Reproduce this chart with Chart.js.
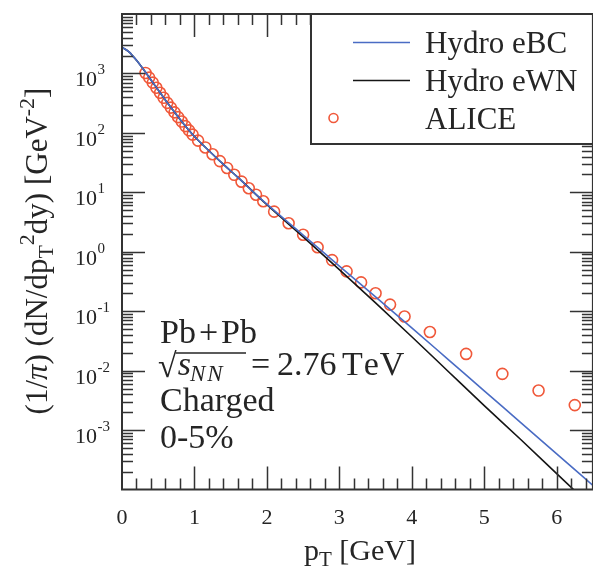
<!DOCTYPE html>
<html>
<head>
<meta charset="utf-8">
<script src="https://cdn.jsdelivr.net/npm/chart.js@4.4.1/dist/chart.umd.min.js"></script>
<style>
  html, body { margin: 0; padding: 0; background: #fff; overflow: hidden; }
  canvas { display: block; }
</style>
</head>
<body>
<canvas id="spectrum" width="600" height="569" style="width:600px;height:569px"></canvas>
<script>
// Hydro curves: pT grid [GeV] and invariant yields [GeV^-2]
const hydroPt  = [0, 0.1, 0.2, 0.3, 0.4, 0.5, 0.6, 0.7, 0.8, 0.9, 1.0, 1.2, 1.4, 1.6, 1.8, 2.0, 2.5, 3.0, 3.5, 4.0, 4.5, 5.0, 5.5, 6.0, 6.5];
const hydroEBC = [2750, 2290, 1660, 1150, 776, 525, 355, 245, 170, 120, 87.1, 50.1, 29.5, 17.8, 10.5, 6.31, 1.91, 0.575, 0.174, 0.0525, 0.0155, 0.00457, 0.00135, 0.000398, 0.000117];
const hydroEWN = [2750, 2290, 1660, 1150, 776, 525, 355, 245, 170, 120, 87.1, 50.1, 29.5, 17.8, 10.5, 6.17, 1.78, 0.501, 0.138, 0.0372, 0.00977, 0.00257, 0.000700, 0.000185, 0.0000490];

// ALICE charged hadrons, 0-5% Pb+Pb at 2.76 TeV
const alicePt    = [0.325, 0.375, 0.425, 0.475, 0.525, 0.575, 0.625, 0.675, 0.725, 0.775, 0.825, 0.875, 0.925, 0.975,
                    1.05, 1.15, 1.25, 1.35, 1.45, 1.55, 1.65, 1.75, 1.85, 1.95,
                    2.1, 2.3, 2.5, 2.7, 2.9, 3.1, 3.3, 3.5, 3.7, 3.9,
                    4.25, 4.75, 5.25, 5.75, 6.25];
const aliceYield = [1020, 851, 700, 575, 473, 389, 320, 266, 221, 184, 155, 130, 110, 93.3,
                    74.1, 56.9, 43.7, 33.5, 25.7, 19.7, 15.1, 11.7, 9.12, 7.08,
                    4.73, 3.02, 1.93, 1.19, 0.724, 0.468, 0.305, 0.200, 0.129, 0.0813,
                    0.0447, 0.0191, 0.00881, 0.00462, 0.00263];

// Axis ticks
const xMajorTicks = [0, 1, 2, 3, 4, 5, 6];
const xMinorStep = 0.2;
const yLabelExponents = [-3, -2, -1, 0, 1, 2, 3];
const yDecadeExponents = [-4, -3, -2, -1, 0, 1, 2, 3, 4];
const yMinorMultipliers = [2, 3, 4, 5, 6, 7, 8, 9];

const SERIF = '"Liberation Serif", "DejaVu Serif", serif';
const FRAME = '#333333';
const INK = '#252525';

function pts(xs, ys) { return xs.map((x, i) => ({ x: x, y: ys[i] })); }

// Runs of text pieces (normal / italic / sub / superscript)
function setFont(ctx, p) {
  ctx.font = (p.italic ? 'italic ' : '') + p.size + 'px ' + SERIF;
}
function richWidth(ctx, parts) {
  let w = 0;
  for (const p of parts) { setFont(ctx, p); w += ctx.measureText(p.t).width + (p.gap || 0); }
  return w;
}
function drawRich(ctx, parts, x, y) {
  let cx = x;
  for (const p of parts) {
    setFont(ctx, p);
    ctx.fillText(p.t, cx, y + (p.dy || 0));
    cx += ctx.measureText(p.t).width + (p.gap || 0);
  }
  return cx;
}

const decorations = {
  id: 'decorations',
  afterDraw(chart) {
    const { ctx, chartArea: a, scales } = chart;
    const xs = scales.x, ys = scales.y;
    ctx.save();
    ctx.strokeStyle = FRAME;
    ctx.textBaseline = 'alphabetic';

    // inward ticks on all four sides
    ctx.lineWidth = 1.5;
    const majorLen = 23, minorLen = 11;
    ctx.beginPath();
    for (let i = 1; i * xMinorStep < xs.max + 1e-9; i++) {
      const v = i * xMinorStep;
      const isMajor = xMajorTicks.some(t => Math.abs(t - v) < 1e-6);
      const px = Math.round(xs.getPixelForValue(v)) + 0.5;
      const len = isMajor ? majorLen : minorLen;
      ctx.moveTo(px, a.bottom); ctx.lineTo(px, a.bottom - len);
      ctx.moveTo(px, a.top); ctx.lineTo(px, a.top + len);
    }
    for (const e of yDecadeExponents) {
      const base = Math.pow(10, e);
      if (base > ys.min && base < ys.max) {
        const py = Math.round(ys.getPixelForValue(base)) + 0.5;
        ctx.moveTo(a.left, py); ctx.lineTo(a.left + majorLen, py);
        ctx.moveTo(a.right, py); ctx.lineTo(a.right - majorLen, py);
      }
      for (const m of yMinorMultipliers) {
        const v = m * base;
        if (v <= ys.min || v >= ys.max) continue;
        const py = Math.round(ys.getPixelForValue(v)) + 0.5;
        ctx.moveTo(a.left, py); ctx.lineTo(a.left + minorLen, py);
        ctx.moveTo(a.right, py); ctx.lineTo(a.right - minorLen, py);
      }
    }
    ctx.stroke();

    // frame
    ctx.lineWidth = 2;
    ctx.strokeRect(a.left, a.top, a.right - a.left, a.bottom - a.top);

    ctx.fillStyle = INK;
    // x tick labels
    ctx.textAlign = 'center';
    ctx.font = '22px ' + SERIF;
    for (const t of xMajorTicks) {
      ctx.fillText(String(t), xs.getPixelForValue(t), 524);
    }
    // y tick labels: 10 with superscript exponent
    for (const e of yLabelExponents) {
      const py = ys.getPixelForValue(Math.pow(10, e));
      ctx.textAlign = 'right';
      ctx.font = '22px ' + SERIF;
      ctx.fillText('10', 97, py + 13);
      ctx.textAlign = 'left';
      ctx.font = '15px ' + SERIF;
      ctx.fillText(String(e), 97.5, py + 1);
    }

    // x axis title
    ctx.textAlign = 'left';
    const xTitle = [
      { t: 'p', size: 30 },
      { t: 'T', size: 21, dy: 6 },
      { t: ' [GeV]', size: 30 }
    ];
    const xw = richWidth(ctx, xTitle);
    drawRich(ctx, xTitle, 360 - xw / 2, 560);

    // y axis title, rotated
    const yTitle = [
      { t: '(1/', size: 31 },
      { t: 'π', size: 31, italic: true },
      { t: ') (dN/dp', size: 31 },
      { t: 'T', size: 22, dy: 6 },
      { t: '2', size: 22, dy: -13 },
      { t: 'dy) [GeV', size: 31 },
      { t: '-2', size: 22, dy: -13 },
      { t: ']', size: 31 }
    ];
    const yw = richWidth(ctx, yTitle);
    ctx.save();
    ctx.translate(47, 251);
    ctx.rotate(-Math.PI / 2);
    drawRich(ctx, yTitle, -yw / 2, 0);
    ctx.restore();

    // legend box
    const ds = chart.data.datasets;
    const box = { x: 311, y: a.top, r: a.right, b: 144 };
    ctx.fillStyle = '#fff';
    ctx.fillRect(box.x, box.y, box.r - box.x, box.b - box.y);
    ctx.strokeStyle = FRAME;
    ctx.lineWidth = 2;
    ctx.strokeRect(box.x, box.y, box.r - box.x, box.b - box.y);
    const rows = [42, 80, 118];
    ctx.font = '31px ' + SERIF;
    ctx.textAlign = 'left';
    ds.forEach((d, i) => {
      const ry = rows[i];
      ctx.strokeStyle = d.borderColor;
      if (d.showLine) {
        ctx.lineWidth = d.borderWidth;
        ctx.beginPath(); ctx.moveTo(353, ry + 0.5); ctx.lineTo(410, ry + 0.5); ctx.stroke();
      } else {
        ctx.lineWidth = d.pointBorderWidth;
        ctx.beginPath(); ctx.arc(333.5, ry, 4.5, 0, Math.PI * 2); ctx.stroke();
      }
      ctx.fillStyle = INK;
      ctx.fillText(d.label, 425, ry + 11);
    });

    // collision system annotation
    ctx.fillStyle = INK;
    drawRich(ctx, [{ t: 'Pb', size: 34, gap: 3 }, { t: '+', size: 34, gap: 3 }, { t: 'Pb', size: 34 }], 160, 343);
    ctx.font = '34px ' + SERIF;
    ctx.fillText('√', 158, 377);
    const rw = ctx.measureText('√').width;
    drawRich(ctx, [{ t: 's', size: 34, italic: true }], 158 + rw + 1, 375);
    drawRich(ctx, [{ t: 'N', size: 23, italic: true, gap: 2 }, { t: 'N', size: 23, italic: true }], 190, 381);
    ctx.strokeStyle = INK;
    ctx.lineWidth = 1.5;
    ctx.beginPath(); ctx.moveTo(158 + rw - 1, 353); ctx.lineTo(246, 353); ctx.stroke();
    drawRich(ctx, [{ t: '=', size: 34 }], 251, 375);
    drawRich(ctx, [{ t: '2.76', size: 34 }], 277, 375);
    drawRich(ctx, [{ t: 'T', size: 34, gap: 1 }, { t: 'e', size: 34, gap: 1 }, { t: 'V', size: 34 }], 342, 375);
    drawRich(ctx, [{ t: 'Charged', size: 34 }], 160, 411);
    drawRich(ctx, [{ t: '0-5%', size: 34 }], 160, 448);

    ctx.restore();
  }
};

new Chart(document.getElementById('spectrum').getContext('2d'), {
  type: 'scatter',
  data: {
    datasets: [
      {
        label: 'Hydro eBC',
        data: pts(hydroPt, hydroEBC),
        showLine: true,
        borderColor: '#4a6cc4',
        borderWidth: 1.6,
        pointRadius: 0,
        cubicInterpolationMode: 'monotone'
      },
      {
        label: 'Hydro eWN',
        data: pts(hydroPt, hydroEWN),
        showLine: true,
        borderColor: '#151515',
        borderWidth: 1.6,
        pointRadius: 0,
        cubicInterpolationMode: 'monotone'
      },
      {
        label: 'ALICE',
        data: pts(alicePt, aliceYield),
        showLine: false,
        pointStyle: 'circle',
        pointRadius: 5.5,
        pointBorderWidth: 1.6,
        borderColor: '#f0583a',
        pointBorderColor: '#f0583a',
        backgroundColor: 'rgba(0,0,0,0)',
        pointBackgroundColor: 'rgba(0,0,0,0)'
      }
    ]
  },
  options: {
    responsive: false,
    animation: false,
    devicePixelRatio: 1,
    layout: { padding: { left: 122, top: 14, right: 3, bottom: 79.5 } },
    plugins: { legend: { display: false }, tooltip: { enabled: false } },
    scales: {
      x: { type: 'linear', min: 0, max: 6.5, display: false },
      y: { type: 'logarithmic', min: 1e-4, max: 1e4, display: false }
    }
  },
  plugins: [decorations]
});
</script>
</body>
</html>
